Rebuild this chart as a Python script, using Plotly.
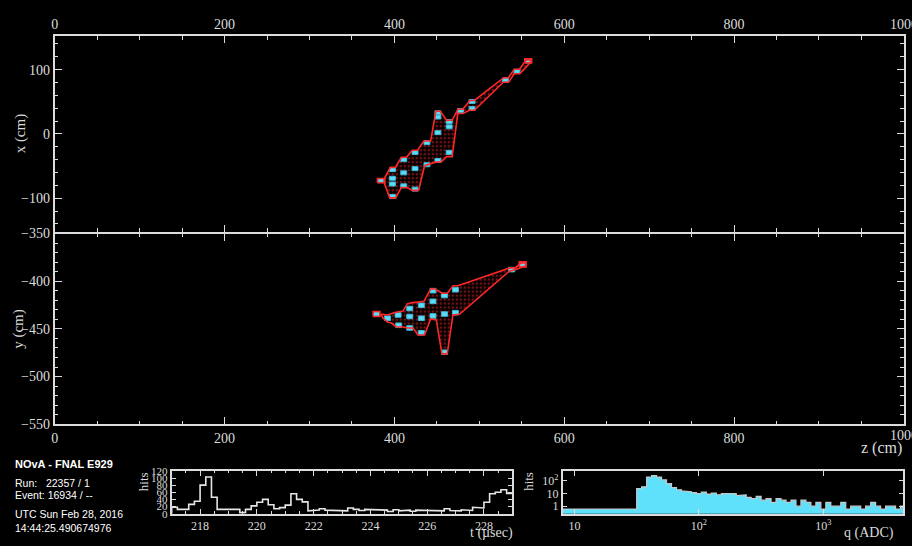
import plotly.graph_objects as go

# ---------------- data ----------------
# XZ (top) view hits, cm
top_hit_z = [384, 397.7, 397.7, 397.7, 397.7, 411, 411, 411, 424.3, 424.3, 424.3,
             438.3, 438.3, 451.2, 451.2, 451.2, 451.2, 464.5, 464.5, 464.5,
             477.8, 491.5, 491.5, 530.6, 544.3, 557.6]
top_hit_x = [-72.7, -55.6, -69, -78, -97.5, -40, -60.6, -80.8, -28.8, -54, -85.9,
             -13.6, -48, 32.8, 26.3, 2, -41.4, 19.2, 11, -28.8,
             36.4, 50.5, 39.4, 83.8, 97.4, 113.6]
top_hull_z = [388.6, 395.3, 401.2, 408.2, 414.1, 421.1, 427.0, 434.8, 442.6, 448.9, 454.0,
              461.4, 468.0, 474.7, 480.6, 488.8, 494.2, 528.7, 534.1, 541.1, 547.4, 555.2,
              560.7, 560.7, 547.8, 541.1, 534.5, 528.2, 494.2, 488.3, 480.9, 474.7, 468.0,
              461.4, 455.1, 448.4, 435.5, 428.5, 421.1, 414.9, 408.2, 401.5, 394.5, 388.6]
top_hull_x = [-68.2, -52.0, -52.0, -36.4, -36.4, -25.3, -25.3, -11.1, -11.1, 35.3, 35.3,
              21.2, 21.2, 38.3, 38.3, 52.0, 52.0, 87.4, 87.4, 100.5, 100.5, 115.2,
              115.2, 112.1, 93.5, 93.5, 80.3, 80.3, 36.8, 36.8, 31.8, 31.8, -35.3,
              -35.3, -43.5, -43.9, -49.5, -87.9, -87.9, -83.3, -83.3, -99.5, -99.5, -78.3]

# YZ (side) view hits, cm
side_hit_z = [378.9, 391.8, 404.3, 405.0, 418.0, 418.0, 418.0, 431.7, 431.7, 431.7,
              445.4, 445.4, 445.4, 459.0, 459.0, 459.0, 471.9, 471.9, 538.1, 551.0]
side_hit_y = [-434.4, -438.8, -435.4, -446.2, -428.6, -437.0, -449.0, -425.2, -438.8, -454.1,
              -409.9, -421.1, -436.4, -415.0, -434.4, -474.5, -408.9, -433.0, -387.8, -382.3]
side_hull_z = [384.0, 391.8, 400.4, 410.2, 415.2, 421.9, 434.8, 442.6, 448.1, 456.3, 462.2,
               469.2, 474.7, 536.4, 542.3, 549.0, 554.8, 554.8, 543.1, 535.3, 476.6, 468.9,
               462.2, 456.0, 449.3, 442.6, 435.5, 427.8, 421.9, 414.9, 410.2, 402.3, 396.5,
               391.8, 386.7]
side_hull_y = [-434.4, -435.4, -432.7, -431.3, -423.5, -422.4, -421.1, -408.2, -408.2, -412.6,
               -412.6, -404.8, -404.8, -386.0, -386.0, -380.9, -380.9, -383.7, -387.8, -389.5,
               -434.7, -435.4, -476.2, -476.2, -440.5, -439.5, -456.4, -456.4, -449.0, -449.0,
               -448.0, -448.0, -443.9, -442.9, -438.8]

# z-axis tick labels
z_ticks = [0, 200, 400, 600, 800, 1000]

# timing histogram (217 -> 229 usec, 0.2 usec bins)
t_start, t_bin = 217.0, 0.2
t_counts = [18, 12, 12, 26, 35, 80, 103, 46, 12, 12, 14, 12, 3, 12, 22, 32, 40, 25, 14, 17,
            24, 56, 40, 33, 8, 10, 14, 10, 8, 10, 8, 16, 12, 9, 12, 12, 12, 10, 6, 11,
            8, 10, 7, 10, 9, 9, 9, 8, 14, 9, 8, 11, 9, 18, 16, 32, 56, 60, 67, 57]
t_ticks = [218, 220, 222, 224, 226, 228]

# charge histogram (log bins of 0.04 decade starting at 10^0.9)
q_log_start, q_log_bin = 0.90, 0.04
q_counts = ([0.6] * 15 +
            [25, 34, 200, 260, 200, 120, 60, 30, 20, 16, 14, 12, 10, 13, 9, 11, 8, 10, 9, 10, 7, 8] +
            [5, 4, 6, 3, 4, 2, 4, 3, 2, 3, 1, 3, 2, 1, 2, 0.6, 2, 1, 1, 2, 0.6, 1, 1, 0.6, 1, 2,
             1, 0.6, 1, 1, 0.6, 1])

info_lines = ["Run:   22357 / 1", "Event: 16934 / --", "UTC Sun Feb 28, 2016", "14:44:25.490674976"]

# ---------------- helpers ----------------
def rects(cx, cy, hx, hy):
    xs, ys = [], []
    for a, b in zip(cx, cy):
        xs += [a - hx, a + hx, a + hx, a - hx, a - hx, None]
        ys += [b - hy, b - hy, b + hy, b + hy, b - hy, None]
    return xs, ys

HIT = "#5edcf6"
HITLINE = "#38b8da"
RED = "#ff2828"
FG = "#dcdcdc"
SERIF = "Liberation Serif"
SANS = "Liberation Sans"

fig = go.Figure()

def hull_fill(zs, ys, xa, ya):
    fig.add_trace(go.Scatter(x=zs + [zs[0]], y=ys + [ys[0]], mode="lines", fill="toself",
                             line=dict(width=0, color=RED), fillcolor="rgba(0,0,0,0)",
                             fillpattern=dict(shape=".", fgcolor="#e82626",
                                              bgcolor="rgba(0,0,0,0)", size=4, solidity=0.35),
                             xaxis=xa, yaxis=ya, hoverinfo="skip"))

def hull_line(zs, ys, xa, ya):
    fig.add_trace(go.Scatter(x=zs + [zs[0]], y=ys + [ys[0]], mode="lines",
                             line=dict(color=RED, width=1.6), xaxis=xa, yaxis=ya))

# ---- top view ----
hull_fill(top_hull_z, top_hull_x, "x", "y")
hx, hy = rects(top_hit_z, top_hit_x, 3.5, 3.1)
fig.add_trace(go.Scatter(x=hx, y=hy, mode="lines", fill="toself", fillcolor=HIT,
                         line=dict(color=HITLINE, width=1), xaxis="x", yaxis="y"))
hull_line(top_hull_z, top_hull_x, "x", "y")
bx, by = rects([top_hit_z[0], top_hit_z[-1]], [top_hit_x[0], top_hit_x[-1]], 4.0, 3.3)
fig.add_trace(go.Scatter(x=bx, y=by, mode="lines", line=dict(color=RED, width=1.6),
                         xaxis="x", yaxis="y"))

# ---- side view ----
hull_fill(side_hull_z, side_hull_y, "x2", "y2")
hx, hy = rects(side_hit_z, side_hit_y, 3.5, 2.4)
fig.add_trace(go.Scatter(x=hx, y=hy, mode="lines", fill="toself", fillcolor=HIT,
                         line=dict(color=HITLINE, width=1), xaxis="x2", yaxis="y2"))
hull_line(side_hull_z, side_hull_y, "x2", "y2")
bx, by = rects([side_hit_z[0], side_hit_z[-1]], [side_hit_y[0], side_hit_y[-1]], 4.0, 2.6)
fig.add_trace(go.Scatter(x=bx, y=by, mode="lines", line=dict(color=RED, width=1.6),
                         xaxis="x2", yaxis="y2"))

# ---- timing histogram ----
t_edges = [t_start + t_bin * i for i in range(len(t_counts) + 1)]
tx, ty = [t_edges[0]], [0]
for i, c in enumerate(t_counts):
    tx += [t_edges[i], t_edges[i + 1]]
    ty += [c, c]
fig.add_trace(go.Scatter(x=tx, y=ty, mode="lines", line=dict(color="#e6e6e6", width=1.6),
                         xaxis="x3", yaxis="y3"))

# ---- charge histogram ----
q_edges = [10 ** (q_log_start + q_log_bin * i) for i in range(len(q_counts) + 1)]
qx, qy = [q_edges[0]], [0.05]
for i, c in enumerate(q_counts):
    qx += [q_edges[i], q_edges[i + 1]]
    qy += [c, c]
qx += [q_edges[-1]]
qy += [0.05]
fig.add_trace(go.Scatter(x=qx, y=qy, mode="lines", fill="toself", fillcolor="#5fe0fb",
                         line=dict(color="#c8c8c8", width=1.2), xaxis="x4", yaxis="y4"))

# ---------------- layout ----------------
def ax(**kw):
    base = dict(showline=True, linecolor=FG, linewidth=2, mirror="allticks", ticks="inside",
                tickcolor=FG, tickwidth=1, ticklen=7, showgrid=False, zeroline=False,
                tickfont=dict(family=SERIF, size=14, color=FG))
    base.update(kw)
    return base

minor = lambda d, l=3.5: dict(dtick=d, ticks="inside", ticklen=l, tickcolor=FG, tickwidth=1)
small = dict(family=SERIF, size=12, color=FG)

fig.update_layout(
    width=912, height=546, margin=dict(l=0, r=0, t=0, b=0),
    paper_bgcolor="black", plot_bgcolor="black", showlegend=False,
    xaxis=ax(domain=[0.057, 0.991], range=[0, 1000], side="top", anchor="y",
             tickvals=z_ticks, minor=minor(50)),
    yaxis=ax(domain=[0.577, 0.945], range=[-152, 152], anchor="x",
             tickvals=[-100, 0, 100], minor=minor(20)),
    xaxis2=ax(domain=[0.057, 0.991], range=[0, 1000], side="bottom", anchor="y2",
              tickvals=z_ticks, minor=minor(50)),
    yaxis2=ax(domain=[0.2143, 0.5733], range=[-550, -350], anchor="x2",
              tickvals=[-550, -500, -450, -400, -350], minor=minor(10)),
    xaxis3=ax(domain=[0.1856, 0.5603], range=[217, 229], anchor="y3", tickvals=t_ticks,
              ticklen=5, minor=minor(0.5, 2.5), tickfont=small),
    yaxis3=ax(domain=[0.0458, 0.1264], range=[0, 120], anchor="x3",
              tickvals=[0, 20, 40, 60, 80, 100, 120], ticklen=4,
              tickfont=dict(family=SERIF, size=11, color=FG)),
    xaxis4=ax(domain=[0.6159, 0.9901], type="log", range=[0.907, 3.64], anchor="y4",
              tickvals=[10, 100, 1000], ticktext=["10", "10<sup>2</sup>", "10<sup>3</sup>"],
              ticklen=5, tickfont=small),
    yaxis4=ax(domain=[0.0458, 0.1264], type="log", range=[-0.59, 2.79], anchor="x4",
              tickvals=[1, 10, 100], ticktext=["1", "10", "10<sup>2</sup>"], ticklen=4,
              tickfont=small),
)

# edge label "1000" (clipped by the page edge as in the original)
for xa, ya, yshift in [("x", "y", 12), ("x2", "y2", -11)]:
    fig.add_annotation(text=str(z_ticks[-1]), x=z_ticks[-1], xref=xa,
                       y=1.0 if ya == "y" else 0.0, yref=ya + " domain",
                       yshift=yshift, xanchor="center", yanchor="middle", showarrow=False,
                       font=dict(family=SERIF, size=14, color=FG))

ann = [
    dict(text="x (cm)", x=17, y=130, textangle=-90, size=15),
    dict(text="y (cm)", x=16, y=331, textangle=-90, size=15),
    dict(text="z (cm)", x=881, y=453, textangle=0, size=16),
    dict(text="hits", x=141, y=488, textangle=-90, size=13),
    dict(text="t (µsec)", x=490, y=541, textangle=0, size=14),
    dict(text="hits", x=527, y=488, textangle=-90, size=13),
    dict(text="q (ADC)", x=869, y=541, textangle=0, size=14),
]
for a in ann:
    fig.add_annotation(text=a["text"], x=a["x"] / 912, y=1 - a["y"] / 546, xref="paper",
                       yref="paper", xanchor="center", yanchor="middle",
                       showarrow=False, textangle=a["textangle"],
                       font=dict(family=SERIF, size=a["size"], color=FG))

fig.add_annotation(text="<b>NOvA - FNAL E929</b>", x=0.011, y=1 - 470 / 546, xref="paper",
                   yref="paper", xanchor="left", yanchor="middle", showarrow=False,
                   font=dict(family=SANS, size=11, color="white"))
for txt, py in zip(info_lines, [489, 502, 521, 536]):
    fig.add_annotation(text=txt, x=0.011, y=1 - py / 546, xref="paper", yref="paper",
                       xanchor="left", yanchor="middle", showarrow=False,
                       font=dict(family=SANS, size=10.5, color="white"))

fig.write_html("out.html")
